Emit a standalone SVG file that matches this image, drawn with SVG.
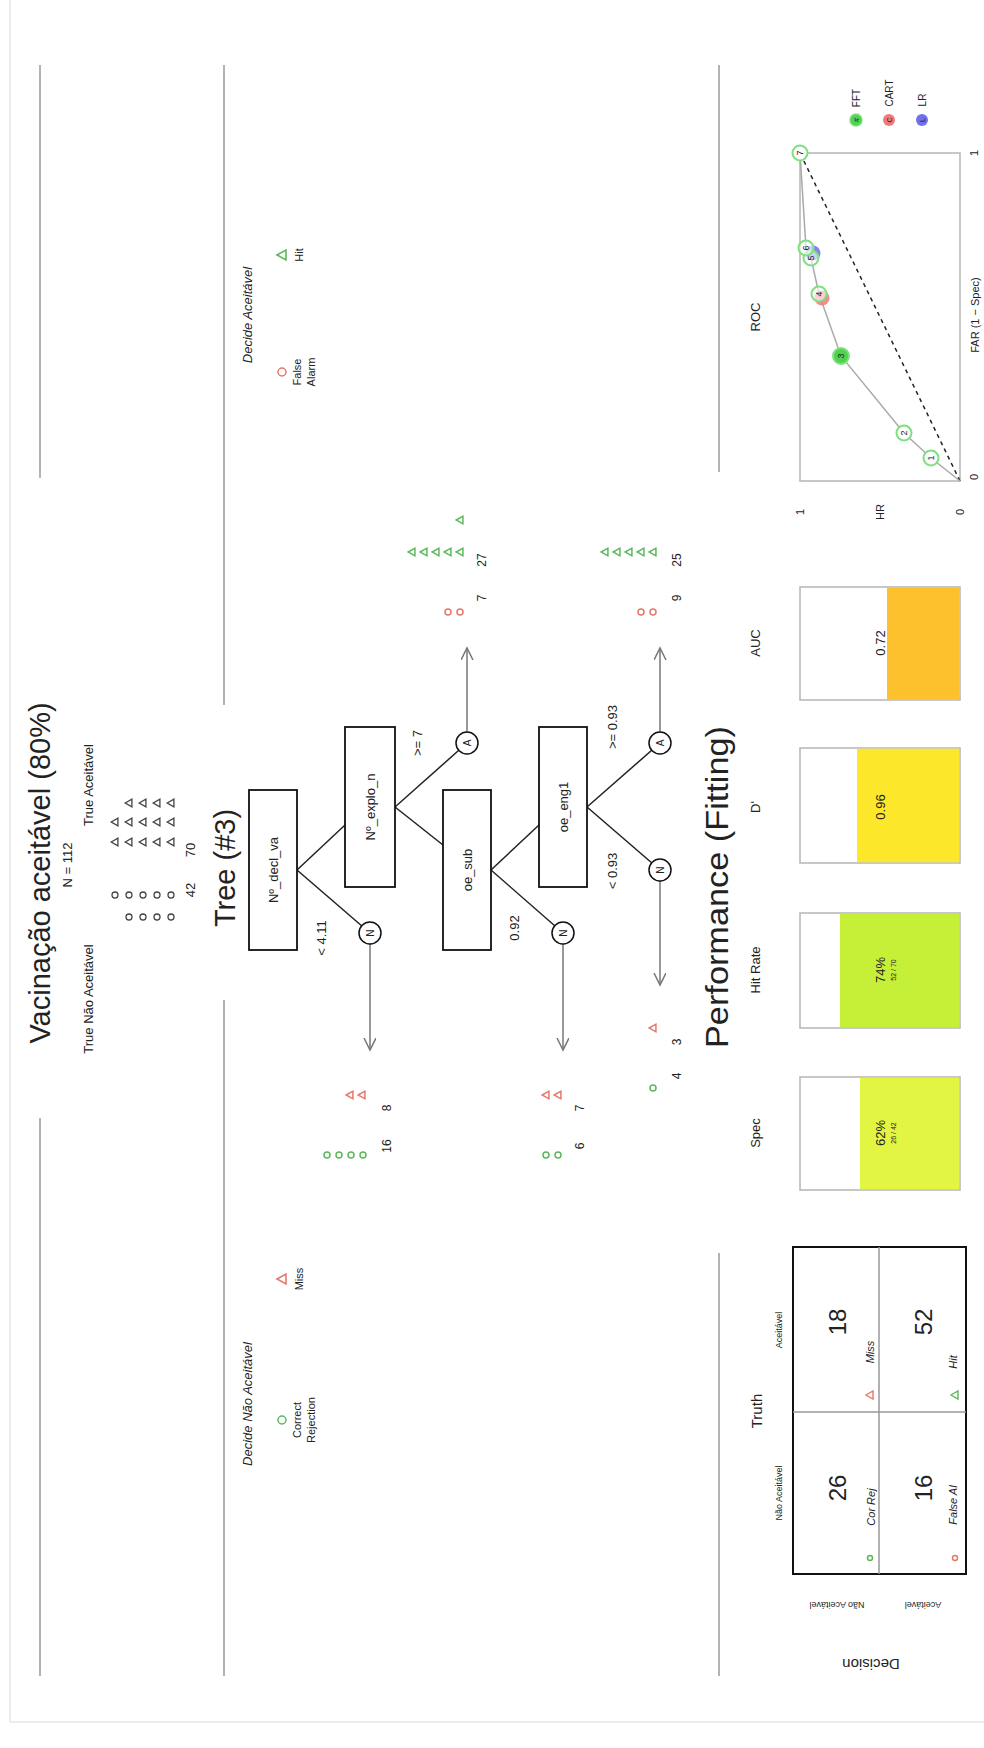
<svg xmlns="http://www.w3.org/2000/svg" width="984" height="1748" viewBox="0 0 984 1748">
<defs>
<style>
.t{font-family:"Liberation Sans",Arial,sans-serif;fill:#222;text-anchor:middle;dominant-baseline:central}
.it{font-style:italic}
.sep{stroke:#9a9a9a;stroke-width:1.5}
.box{fill:#fff;stroke:#111;stroke-width:1.8}
.br{stroke:#222;stroke-width:1.5}
.ex{fill:#fff;stroke:#111;stroke-width:1.5}
.arr{stroke:#777;stroke-width:1.5;marker-end:url(#ah)}
.hd{fill:none;stroke:#444;stroke-width:1.3}
.g{fill:none;stroke:#5cb85c;stroke-width:1.5}
.r{fill:none;stroke:#e5786b;stroke-width:1.5}
.bar{fill:#fff;stroke:#b5b5b5;stroke-width:1.5}
.roc{fill:#fff;stroke:#7fe07f;stroke-width:2}
</style>
<marker id="ah" markerWidth="14" markerHeight="14" refX="12" refY="6" orient="auto" markerUnits="userSpaceOnUse"><path d="M0,0 L12,6 L0,12" fill="none" stroke="#777" stroke-width="1.5"/></marker>
<path id="tri" d="M0,-3.8 L3.8,2.9 L-3.8,2.9 Z"/>
<circle id="ball" r="3"/>
</defs>
<rect width="984" height="1748" fill="#fff"/>
<g id="frame" stroke="#e6e6e6" stroke-width="1.5"><line x1="10" y1="0" x2="10" y2="1722"/><line x1="10" y1="1722" x2="984" y2="1722"/></g>
<g transform="translate(0,1748) rotate(-90)">
<g id="separators">
<line class="sep" x1="72" y1="40" x2="630" y2="40"/><line class="sep" x1="1270" y1="40" x2="1683" y2="40"/>
<line class="sep" x1="72" y1="224" x2="748" y2="224"/><line class="sep" x1="1043" y1="224" x2="1683" y2="224"/>
<line class="sep" x1="72" y1="719" x2="495" y2="719"/><line class="sep" x1="1276" y1="719" x2="1683" y2="719"/>
</g>
<g id="header">
<text class="t" x="875" y="40" font-size="29">Vacinação aceitável (80%)</text>
<text class="t" x="883" y="67" font-size="13">N = 112</text>
<text class="t" x="749" y="88" font-size="13">True Não Aceitável</text>
<text class="t" x="963" y="88" font-size="13">True Aceitável</text>
<g class="hd">
<use href="#ball" x="853" y="115"/><use href="#ball" x="853" y="129"/><use href="#ball" x="853" y="143"/><use href="#ball" x="853" y="157"/><use href="#ball" x="853" y="171"/>
<use href="#ball" x="831" y="129"/><use href="#ball" x="831" y="143"/><use href="#ball" x="831" y="157"/><use href="#ball" x="831" y="171"/>
<use href="#tri" x="906" y="115"/><use href="#tri" x="906" y="129"/><use href="#tri" x="906" y="143"/><use href="#tri" x="906" y="157"/><use href="#tri" x="906" y="171"/>
<use href="#tri" x="926" y="115"/><use href="#tri" x="926" y="129"/><use href="#tri" x="926" y="143"/><use href="#tri" x="926" y="157"/><use href="#tri" x="926" y="171"/>
<use href="#tri" x="945" y="129"/><use href="#tri" x="945" y="143"/><use href="#tri" x="945" y="157"/><use href="#tri" x="945" y="171"/>
</g>
<text class="t" x="858" y="190" font-size="13">42</text>
<text class="t" x="898" y="190" font-size="13">70</text>
<text class="t" x="880" y="225" font-size="29">Tree (#3)</text>
</g>
<g id="legend-left">
<text class="t it" x="344" y="247" font-size="13">Decide Não Aceitável</text>
<circle cx="328" cy="282" r="4" class="g"/>
<text class="t" x="328" y="297" font-size="11">Correct</text>
<text class="t" x="328" y="311" font-size="11">Rejection</text>
<path d="M469,277 L474,286 L464,286 Z" fill="none" stroke="#e5786b" stroke-width="1.6"/>
<text class="t" x="469" y="299" font-size="11">Miss</text>
</g>
<g id="legend-right">
<text class="t it" x="1433" y="247" font-size="13">Decide Aceitável</text>
<circle cx="1376" cy="282" r="4" class="r"/>
<text class="t" x="1376" y="297" font-size="11">False</text>
<text class="t" x="1376" y="311" font-size="11">Alarm</text>
<path d="M1493,277 L1498,286 L1488,286 Z" fill="none" stroke="#5cb85c" stroke-width="1.6"/>
<text class="t" x="1493" y="299" font-size="11">Hit</text>
</g>
<g id="connectors">
<line class="br" x1="878" y1="297" x2="815" y2="370"/>
<line class="br" x1="878" y1="297" x2="923" y2="345"/>
<line class="br" x1="941" y1="395" x2="1005" y2="467"/>
<line class="br" x1="941" y1="395" x2="903" y2="443"/>
<line class="br" x1="878" y1="491" x2="815" y2="563"/>
<line class="br" x1="878" y1="491" x2="923" y2="539"/>
<line class="br" x1="941" y1="587" x2="878" y2="660"/>
<line class="br" x1="941" y1="587" x2="1005" y2="660"/>
<line class="arr" x1="804" y1="370" x2="698" y2="370"/>
<line class="arr" x1="804" y1="563" x2="698" y2="563"/>
<line class="arr" x1="867" y1="660" x2="763" y2="660"/>
<line class="arr" x1="1016" y1="467" x2="1100" y2="467"/>
<line class="arr" x1="1016" y1="660" x2="1100" y2="660"/>
</g>
<g id="node-decl"><rect class="box" x="798" y="249" width="160" height="48"/><text class="t" x="878" y="273" font-size="13">Nº_decl_va</text></g>
<g id="node-explo"><rect class="box" x="861" y="345" width="160" height="50"/><text class="t" x="941" y="370" font-size="13">Nº_explo_n</text></g>
<g id="node-sub"><rect class="box" x="798" y="443" width="160" height="48"/><text class="t" x="878" y="467" font-size="13">oe_sub</text></g>
<g id="node-eng"><rect class="box" x="861" y="539" width="160" height="48"/><text class="t" x="941" y="563" font-size="13">oe_eng1</text></g>
<g id="exit-n1"><circle class="ex" cx="815" cy="370" r="11"/><text class="t" x="815" y="370" font-size="10">N</text></g>
<g id="exit-a1"><circle class="ex" cx="1005" cy="467" r="11"/><text class="t" x="1005" y="467" font-size="10">A</text></g>
<g id="exit-n2"><circle class="ex" cx="815" cy="563" r="11"/><text class="t" x="815" y="563" font-size="10">N</text></g>
<g id="exit-n3"><circle class="ex" cx="878" cy="660" r="11"/><text class="t" x="878" y="660" font-size="10">N</text></g>
<g id="exit-a3"><circle class="ex" cx="1005" cy="660" r="11"/><text class="t" x="1005" y="660" font-size="10">A</text></g>
<g id="branch-labels">
<text class="t" x="810" y="321" font-size="13">&lt; 4.11</text>
<text class="t" x="1005" y="417" font-size="13">&gt;= 7</text>
<text class="t" x="820" y="514" font-size="13">0.92</text>
<text class="t" x="877" y="612" font-size="13">&lt; 0.93</text>
<text class="t" x="1021" y="612" font-size="13">&gt;= 0.93</text>
</g>
<g id="leaf-n1">
<g class="r"><use href="#tri" x="653" y="350"/><use href="#tri" x="653" y="362"/></g>
<g class="g"><use href="#ball" x="593" y="327"/><use href="#ball" x="593" y="339"/><use href="#ball" x="593" y="351"/><use href="#ball" x="593" y="363"/></g>
<text class="t" x="640" y="387" font-size="12">8</text><text class="t" x="602" y="387" font-size="12">16</text>
</g>
<g id="leaf-n2">
<g class="r"><use href="#tri" x="653" y="546"/><use href="#tri" x="653" y="558"/></g>
<g class="g"><use href="#ball" x="593" y="546"/><use href="#ball" x="593" y="558"/></g>
<text class="t" x="640" y="580" font-size="12">7</text><text class="t" x="602" y="580" font-size="12">6</text>
</g>
<g id="leaf-n3">
<g class="r"><use href="#tri" x="720" y="653"/></g>
<g class="g"><use href="#ball" x="660" y="653"/></g>
<text class="t" x="706" y="677" font-size="12">3</text><text class="t" x="672" y="677" font-size="12">4</text>
</g>
<g id="leaf-a1">
<g class="r"><use href="#ball" x="1136" y="448"/><use href="#ball" x="1136" y="460"/></g>
<g class="g"><use href="#tri" x="1196" y="412"/><use href="#tri" x="1196" y="424"/><use href="#tri" x="1196" y="436"/><use href="#tri" x="1196" y="448"/><use href="#tri" x="1196" y="460"/><use href="#tri" x="1228" y="460"/></g>
<text class="t" x="1150" y="482" font-size="12">7</text><text class="t" x="1188" y="482" font-size="12">27</text>
</g>
<g id="leaf-a3">
<g class="r"><use href="#ball" x="1136" y="641"/><use href="#ball" x="1136" y="653"/></g>
<g class="g"><use href="#tri" x="1196" y="605"/><use href="#tri" x="1196" y="617"/><use href="#tri" x="1196" y="629"/><use href="#tri" x="1196" y="641"/><use href="#tri" x="1196" y="653"/></g>
<text class="t" x="1150" y="677" font-size="12">9</text><text class="t" x="1188" y="677" font-size="12">25</text>
</g>
<g id="performance">
<text class="t" x="861" y="717" font-size="31" textLength="322" lengthAdjust="spacingAndGlyphs">Performance (Fitting)</text>
</g>
<g id="confusion-matrix">
<text class="t" x="337" y="756" font-size="15">Truth</text>
<text class="t" x="255" y="779" font-size="9">Não Aceitável</text>
<text class="t" x="418" y="779" font-size="9">Aceitável</text>
<rect x="174" y="793" width="327" height="173" fill="#fff" stroke="#111" stroke-width="2"/>
<line x1="336" y1="793" x2="336" y2="966" stroke="#999" stroke-width="1.5"/>
<line x1="174" y1="879" x2="501" y2="879" stroke="#999" stroke-width="1.5"/>
<text class="t" x="260" y="837" font-size="24">26</text>
<text class="t" x="426" y="837" font-size="24">18</text>
<text class="t" x="260" y="923" font-size="24">16</text>
<text class="t" x="426" y="923" font-size="24">52</text>
<circle cx="190" cy="870" r="2.5" class="g"/>
<text class="t it" x="241" y="871" font-size="11">Cor Rej</text>
<path d="M353,866 L357,873 L349,873 Z" fill="none" stroke="#e5786b" stroke-width="1.4"/>
<text class="t it" x="396" y="870" font-size="11">Miss</text>
<circle cx="190" cy="955" r="2.5" class="r"/>
<text class="t it" x="243" y="953" font-size="11">False Al</text>
<path d="M353,951 L357,958 L349,958 Z" fill="none" stroke="#5cb85c" stroke-width="1.4"/>
<text class="t it" x="386" y="953" font-size="11">Hit</text>
<text class="t" font-size="9" transform="translate(143,837) rotate(-90)">Não Aceitável</text>
<text class="t" font-size="9" transform="translate(143,923) rotate(-90)">Aceitável</text>
<text class="t" font-size="15" transform="translate(84,871) rotate(-90)">Decision</text>
</g>
<g id="bar-spec">
<text class="t" x="615" y="755" font-size="13">Spec</text>
<rect class="bar" x="558" y="800" width="113" height="160"/>
<rect x="558.75" y="860" width="111.5" height="99.25" fill="#e1f542"/>
<text class="t" x="615" y="880" font-size="13">62%</text>
<text class="t" x="615" y="893" font-size="7">26 / 42</text>
</g>
<g id="bar-hr">
<text class="t" x="778" y="755" font-size="13">Hit Rate</text>
<rect class="bar" x="720" y="800" width="115" height="160"/>
<rect x="720.75" y="840" width="113.5" height="119.25" fill="#c6ef37"/>
<text class="t" x="778" y="880" font-size="13">74%</text>
<text class="t" x="778" y="893" font-size="7">52 / 70</text>
</g>
<g id="bar-d">
<text class="t" x="941" y="755" font-size="13">D'</text>
<rect class="bar" x="885" y="800" width="115" height="160"/>
<rect x="885.75" y="857" width="113.5" height="102.25" fill="#fde72a"/>
<text class="t" x="941" y="880" font-size="13">0.96</text>
</g>
<g id="bar-auc">
<text class="t" x="1105" y="755" font-size="13">AUC</text>
<rect class="bar" x="1048" y="800" width="113" height="160"/>
<rect x="1048.75" y="887" width="111.5" height="72.25" fill="#fcc12d"/>
<text class="t" x="1105" y="880" font-size="13">0.72</text>
</g>
<g id="roc">
<text class="t" x="1431" y="755" font-size="13">ROC</text>
<rect x="1267" y="800" width="328" height="160" fill="none" stroke="#b5b5b5" stroke-width="1.5"/>
<line x1="1267" y1="960" x2="1595" y2="800" stroke="#222" stroke-width="1.5" stroke-dasharray="4 4"/>
<polyline points="1267,960 1290,931 1315,904 1392,841 1454,819 1490,811 1500,806 1595,800" fill="none" stroke="#aaa" stroke-width="1.5"/>
<text class="t" x="1236" y="800" font-size="11">1</text>
<text class="t" x="1236" y="880" font-size="11">HR</text>
<text class="t" x="1236" y="960" font-size="11">0</text>
<text class="t" x="1271" y="974" font-size="11">0</text>
<text class="t" x="1433" y="975" font-size="11">FAR (1 − Spec)</text>
<text class="t" x="1595" y="974" font-size="11" fill="#b03030">1</text>
<circle cx="1450" cy="822" r="7.5" fill="#f07a7a" fill-opacity="0.85"/>
<circle cx="1495" cy="813" r="7.5" fill="#6f6ff0" fill-opacity="0.85"/>
<g><circle class="roc" cx="1290" cy="931" r="7.5"/><text class="t" x="1290" y="931" font-size="9">1</text></g>
<g><circle class="roc" cx="1315" cy="904" r="7.5"/><text class="t" x="1315" y="904" font-size="9">2</text></g>
<g><circle cx="1392" cy="841" r="8" fill="#4fd24f" stroke="#7fe07f" stroke-width="2"/><text class="t" x="1392" y="841" font-size="9">3</text></g>
<g><circle class="roc" cx="1454" cy="819" r="7.5" fill-opacity="0.6"/><text class="t" x="1454" y="819" font-size="9">4</text></g>
<g><circle class="roc" cx="1490" cy="811" r="7.5" fill-opacity="0.6"/><text class="t" x="1490" y="811" font-size="9">5</text></g>
<g><circle class="roc" cx="1500" cy="806" r="7.5" fill-opacity="0.6"/><text class="t" x="1500" y="806" font-size="9">6</text></g>
<g><circle class="roc" cx="1595" cy="800" r="7.5"/><text class="t" x="1595" y="800" font-size="9">7</text></g>
<circle cx="1628" cy="856" r="6" fill="#4fd24f" stroke="#7fe07f" stroke-width="1.5"/><text class="t" x="1628" y="856" font-size="7">#</text>
<text class="t" x="1650" y="856" font-size="10">FFT</text>
<circle cx="1628" cy="889" r="6" fill="#f07a7a"/><text class="t" x="1628" y="889" font-size="7">C</text>
<text class="t" x="1655" y="889" font-size="10">CART</text>
<circle cx="1628" cy="922" r="6" fill="#6f6ff0"/><text class="t" x="1628" y="922" font-size="7">L</text>
<text class="t" x="1648" y="922" font-size="10">LR</text>
</g>
</g>
</svg>
